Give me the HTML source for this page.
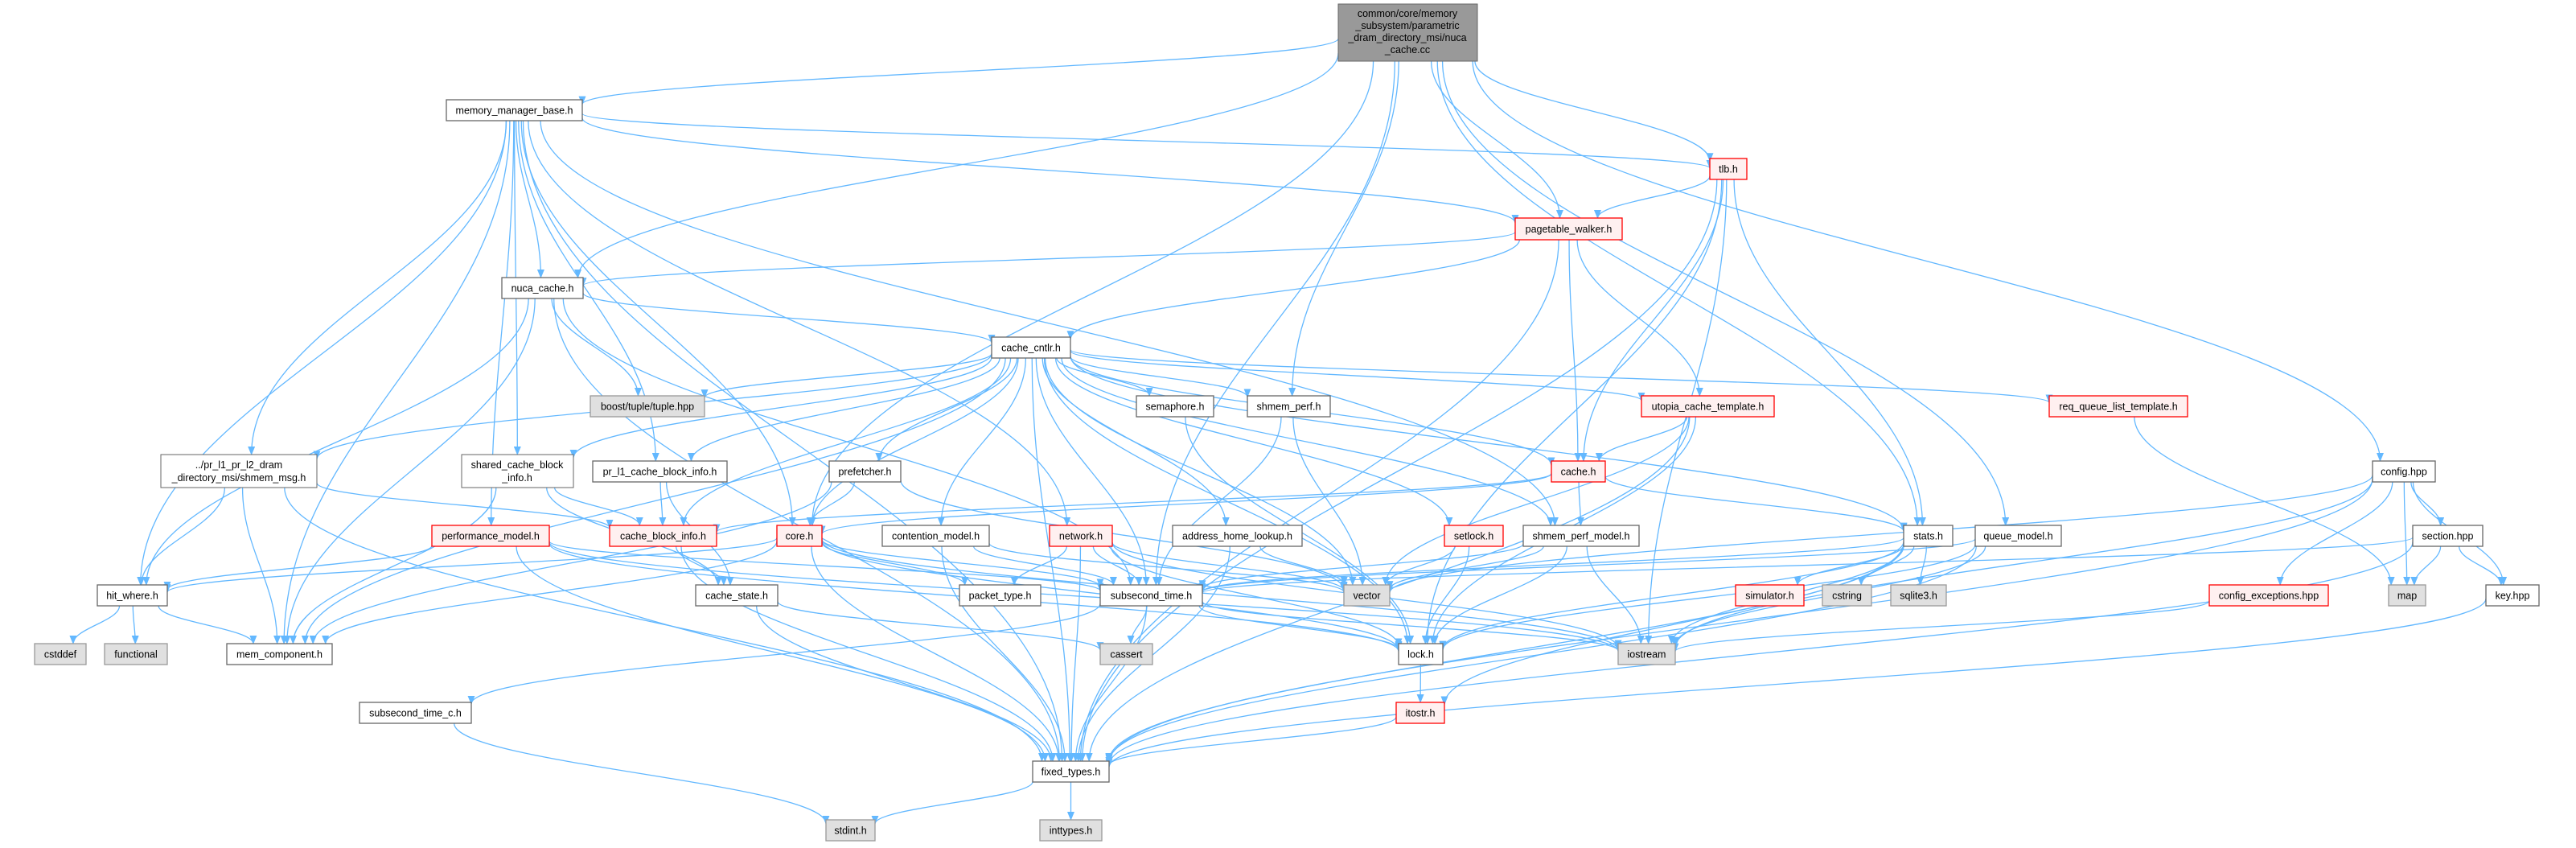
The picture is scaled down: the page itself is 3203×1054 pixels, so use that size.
<!DOCTYPE html>
<html><head><meta charset="utf-8"><style>
html,body{margin:0;padding:0;background:#fff;}
svg{display:block;}
text{font-family:"Liberation Sans",Arial,sans-serif;font-size:12.5px;fill:#000;}
</style></head><body>
<svg id="g" width="3203" height="1054" viewBox="0 0 3203 1054" xmlns="http://www.w3.org/2000/svg">
<defs><marker id="ah" markerWidth="11" markerHeight="9" refX="10" refY="4.5" orient="auto" markerUnits="userSpaceOnUse"><path d="M0,0 L11,4.5 L0,9 z" fill="#63b8ff"/></marker></defs>
<g id="edges" fill="none" stroke="#63b8ff" stroke-width="1.3"></g>
<g id="nodes">
<rect x="1664" y="5" width="173" height="71" fill="#999" stroke="#666"/>
<text x="1750" y="21" text-anchor="middle">common/core/memory</text>
<text x="1750" y="36" text-anchor="middle">_subsystem/parametric</text>
<text x="1750" y="51" text-anchor="middle">_dram_directory_msi/nuca</text>
<text x="1750" y="66" text-anchor="middle">_cache.cc</text>
<rect x="200" y="565" width="194" height="41" fill="#fff" stroke="#666"/>
<text x="297" y="582" text-anchor="middle">../pr_l1_pr_l2_dram</text>
<text x="297" y="598" text-anchor="middle">_directory_msi/shmem_msg.h</text>
<rect x="574" y="565" width="139" height="41" fill="#fff" stroke="#666"/>
<text x="643" y="582" text-anchor="middle">shared_cache_block</text>
<text x="643" y="598" text-anchor="middle">_info.h</text>
</g>
</svg>
<script>
var N={
mmb:[555,124,169,26,"memory_manager_base.h",0],
nuca:[624,345,101,26,"nuca_cache.h",0],
boost:[734,492,142,26,"boost/tuple/tuple.hpp",2],
tlb:[2126,197,46,26,"tlb.h",1],
ptw:[1884,271,133,27,"pagetable_walker.h",1],
cc:[1233,419,98,26,"cache_cntlr.h",0],
sem:[1413,492,96,26,"semaphore.h",0],
shperf:[1551,492,103,26,"shmem_perf.h",0],
utopia:[2041,492,165,26,"utopia_cache_template.h",1],
rq:[2548,492,172,26,"req_queue_list_template.h",1],
prl1:[737,573,167,26,"pr_l1_cache_block_info.h",0],
pref:[1031,573,89,26,"prefetcher.h",0],
cacheh:[1929,573,67,26,"cache.h",1],
config:[2950,573,78,26,"config.hpp",0],
perf:[537,653,146,26,"performance_model.h",1],
cbi:[758,653,133,26,"cache_block_info.h",1],
core:[966,653,56,26,"core.h",1],
cm:[1097,653,133,26,"contention_model.h",0],
net:[1305,653,78,26,"network.h",1],
ahl:[1458,653,161,26,"address_home_lookup.h",0],
setlock:[1796,653,73,26,"setlock.h",1],
spm:[1894,653,144,26,"shmem_perf_model.h",0],
stats:[2367,653,61,26,"stats.h",0],
qm:[2456,653,107,26,"queue_model.h",0],
section:[3000,653,87,26,"section.hpp",0],
hit:[121,727,87,26,"hit_where.h",0],
cstate:[865,727,102,26,"cache_state.h",0],
ptype:[1193,727,101,26,"packet_type.h",0],
sst:[1368,727,127,26,"subsecond_time.h",0],
vector:[1671,727,57,26,"vector",2],
sim:[2158,727,85,26,"simulator.h",1],
cstring:[2266,727,61,26,"cstring",2],
sqlite:[2351,727,69,26,"sqlite3.h",2],
cex:[2747,727,148,26,"config_exceptions.hpp",1],
map:[2970,727,46,26,"map",2],
key:[3091,727,66,26,"key.hpp",0],
cstddef:[43,800,64,26,"cstddef",2],
func:[130,800,78,26,"functional",2],
memc:[282,800,131,26,"mem_component.h",0],
cassert:[1368,800,65,26,"cassert",2],
lock:[1739,800,55,26,"lock.h",0],
iostream:[2012,800,71,26,"iostream",2],
sstc:[447,873,139,26,"subsecond_time_c.h",0],
itostr:[1736,873,60,26,"itostr.h",1],
fixed:[1284,946,95,26,"fixed_types.h",0],
stdint:[1027,1019,61,26,"stdint.h",2],
inttypes:[1293,1019,77,26,"inttypes.h",2],
main:[1664,5,173,71,"",3],
shmsg:[200,565,194,41,"",0],
scbi:[574,565,139,41,"",0]
};
var E={
main:["mmb","nuca","shperf","stats","qm","config","core","tlb","ptw","sst"],
mmb:["memc","shmsg","hit","perf","nuca","core","prl1","tlb","ptw","net","spm","fixed","scbi"],
tlb:["ptw","cacheh","lock","fixed","stats","iostream"],
ptw:["nuca","cc","cacheh","utopia","fixed"],
nuca:["cc","boost","hit","fixed","memc","sst"],
cc:["boost","shmsg","scbi","prl1","pref","core","cm","sst","ahl","sem","shperf","vector","setlock","spm","cacheh","utopia","rq","stats","lock","fixed","memc","cbi"],
utopia:["cacheh","lock","fixed","vector"],
cacheh:["core","cbi","spm","stats"],
shmsg:["cbi","hit","memc","fixed"],
scbi:["cbi","cstate","memc"],
prl1:["cbi","cstate"],
pref:["core","vector","memc"],
perf:["hit","sst","fixed","lock","iostream"],
cbi:["cstate","fixed"],
core:["hit","memc","sst","ptype","lock","fixed","iostream"],
hit:["cstddef","func","memc"],
cstate:["cassert","fixed"],
cm:["sst","fixed","vector"],
net:["ptype","sst","fixed","vector","lock","iostream"],
ahl:["vector","fixed"],
setlock:["vector","lock"],
spm:["sst","lock","iostream","vector"],
sem:["lock"],
shperf:["sst","vector"],
sst:["cassert","sstc","fixed","lock","iostream"],
sstc:["stdint"],
lock:["itostr"],
itostr:["fixed"],
fixed:["stdint","inttypes"],
stats:["sim","cstring","sqlite","lock","iostream","itostr","fixed","sst"],
qm:["sst","lock","iostream","fixed"],
config:["section","map","key","cex","fixed","iostream","vector"],
section:["map","key","fixed","sst"],
key:["fixed"],
cex:["iostream"],
rq:["map"]
};
var ns="http://www.w3.org/2000/svg";
var eg=document.getElementById("edges"),ng=document.getElementById("nodes");
function bp(n,tx,ty){var cx=n[0]+n[2]/2,cy=n[1]+n[3]/2,dx=tx-cx,dy=ty-cy;
 if(dx==0&&dy==0)return[cx,cy];var sx=Math.abs(dx)>0?(n[2]/2)/Math.abs(dx):1e9,sy=Math.abs(dy)>0?(n[3]/2)/Math.abs(dy):1e9,s=Math.min(sx,sy);return[cx+dx*s,cy+dy*s];}
for(var s in E){E[s].forEach(function(t){var a=N[s],b=N[t];
 var ac=[a[0]+a[2]/2,a[1]+a[3]/2],bc=[b[0]+b[2]/2,b[1]+b[3]/2];
 var p=bp(a,bc[0],bc[1]),q=bp(b,ac[0],ac[1]);
 var dy=q[1]-p[1];var k=Math.abs(dy)*0.4;
 var d="M"+p[0]+","+p[1]+" C"+p[0]+","+(p[1]+(dy>=0?k:-k))+" "+q[0]+","+(q[1]-(dy>=0?k:-k))+" "+q[0]+","+q[1];
 var e=document.createElementNS(ns,"path");e.setAttribute("d",d);e.setAttribute("marker-end","url(#ah)");eg.appendChild(e);});}
for(var k in N){var n=N[k];if(!n[4])continue;
 var r=document.createElementNS(ns,"rect");r.setAttribute("x",n[0]);r.setAttribute("y",n[1]);r.setAttribute("width",n[2]);r.setAttribute("height",n[3]);
 var st=n[5];r.setAttribute("fill",st==1?"#fff0f0":st==2?"#e0e0e0":"#fff");r.setAttribute("stroke",st==1?"#ff0000":st==2?"#999":"#666");r.setAttribute("stroke-width","1.3");
 ng.insertBefore(r,ng.firstChild);
 var t=document.createElementNS(ns,"text");t.setAttribute("x",n[0]+n[2]/2);t.setAttribute("y",n[1]+n[3]/2+4.5);t.setAttribute("text-anchor","middle");t.textContent=n[4];ng.appendChild(t);}
</script>
</body></html>
